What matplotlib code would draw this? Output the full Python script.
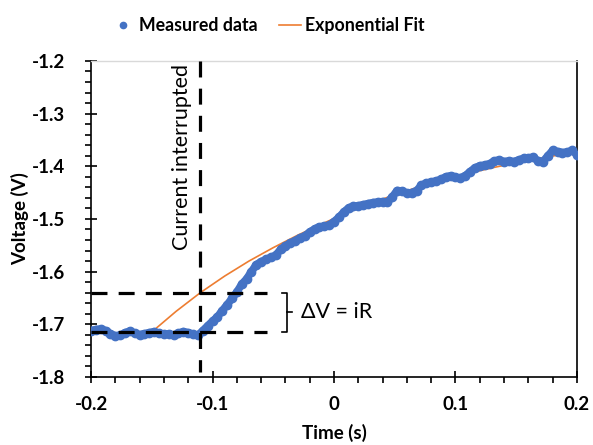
import numpy as np
import matplotlib
matplotlib.use('Agg')
import matplotlib.pyplot as plt
from matplotlib.ticker import MultipleLocator, FormatStrFormatter

plt.rcParams['font.family'] = ['Lato', 'DejaVu Sans']

# measured voltage, sampled every 4 ms from -0.2 s to 0.2 s
time = np.linspace(-0.2, 0.2, 101)
voltage = [
    -1.712, -1.710, -1.709, -1.712, -1.718, -1.722, -1.721, -1.716, -1.713, -1.717,
    -1.720, -1.718, -1.716, -1.714, -1.717, -1.719, -1.718, -1.721, -1.717, -1.714,
    -1.716, -1.719, -1.721,
    -1.712, -1.703, -1.694, -1.686, -1.674, -1.663, -1.651, -1.639, -1.624, -1.614,
    -1.600, -1.587, -1.581, -1.577, -1.573, -1.569, -1.558, -1.551, -1.546, -1.541,
    -1.536, -1.532, -1.525, -1.519, -1.515, -1.514, -1.512, -1.505,
    -1.497, -1.487, -1.479, -1.476, -1.475, -1.473, -1.471, -1.469, -1.468, -1.467,
    -1.468, -1.458, -1.446, -1.447, -1.451, -1.450, -1.446, -1.436, -1.432, -1.430,
    -1.428, -1.425, -1.420, -1.418, -1.421, -1.422, -1.418, -1.410, -1.403, -1.399,
    -1.398, -1.395, -1.390, -1.388, -1.391, -1.390, -1.391, -1.388, -1.385, -1.384,
    -1.383, -1.390, -1.391, -1.380, -1.370, -1.372, -1.374, -1.373, -1.370, -1.378,
]

# exponential fit curve
fit_time = [-0.15, -0.13, -0.11, -0.09, -0.07, -0.05, -0.03, -0.01, 0.01, 0.03,
            0.05, 0.07, 0.09, 0.11, 0.13, 0.15, 0.17, 0.19, 0.20]
fit_voltage = [-1.7147, -1.6755, -1.6400, -1.6085, -1.5800, -1.5545, -1.5310, -1.5095,
               -1.4890, -1.4705, -1.4540, -1.4390, -1.4256, -1.4137, -1.4030, -1.3933,
               -1.3845, -1.3766, -1.3729]

t_interrupt = -0.11
v_before = -1.715
v_after = -1.64

fig = plt.figure(figsize=(5.93, 4.45), dpi=100)
ax = fig.add_axes([0.1535, 0.153, 0.8195, 0.71])

blue = '#4472C4'
orange = '#ED7D31'

ax.plot(time, voltage, color=blue, lw=5.5, solid_capstyle='round', zorder=3)
ax.plot(time, voltage, 'o', color=blue, ms=6, zorder=3)
ax.plot([], [], 'o', color=blue, ms=4.5, label='Measured data')
ax.plot(fit_time, fit_voltage, color=orange, lw=1.2, label='Exponential Fit', zorder=2)

dash = dict(color='black', lw=2.3, dashes=(5, 3.5), zorder=4)
ax.plot([t_interrupt, t_interrupt], [-1.2, -1.79], **dash)
ax.plot([-0.2, -0.055], [v_after, v_after], **dash)
ax.plot([-0.2, -0.055], [v_before, v_before], **dash)

# brace for the voltage step
bx = -0.0387
ax.plot([bx - 0.004, bx, bx, bx - 0.004], [v_after, v_after, v_before, v_before],
        color='black', lw=1.2)
ax.plot([bx, bx + 0.004], [(v_after + v_before) / 2] * 2, color='black', lw=1.2)
ax.text(-0.027, (v_after + v_before) / 2, '\u0394V = iR', fontsize=15.5,
        va='center', ha='left')
ax.text(-0.125, -1.205, 'Current interrupted', rotation=90, fontsize=15.5,
        va='top', ha='center')

ax.set_xlim(-0.2, 0.2)
ax.set_ylim(-1.8, -1.2)
ax.xaxis.set_major_locator(MultipleLocator(0.1))
ax.xaxis.set_minor_locator(MultipleLocator(0.02))
ax.yaxis.set_major_locator(MultipleLocator(0.1))
ax.yaxis.set_minor_locator(MultipleLocator(0.02))
ax.xaxis.set_major_formatter(plt.FuncFormatter(lambda v, p: '0' if abs(v) < 1e-9 else f'{v:.1f}'))
ax.yaxis.set_major_formatter(FormatStrFormatter('%.1f'))
ax.tick_params(which='major', direction='inout', length=9, width=1.2, labelsize=13.5)
ax.tick_params(which='minor', direction='out', length=4, width=1.2)
ax.tick_params(axis='x', which='major', pad=9)
ax.tick_params(axis='y', which='major', pad=14)
for lab in ax.get_xticklabels() + ax.get_yticklabels():
    lab.set_fontweight('bold')

for side in ['left', 'bottom', 'right']:
    ax.spines[side].set_linewidth(1.2)
    ax.spines[side].set_color('black')
ax.spines['top'].set_color('#d9d9d9')
ax.spines['top'].set_linewidth(1)

ax.set_xlabel('Time (s)', fontsize=13.5, fontweight='bold', labelpad=8)
ax.set_ylabel('Voltage (V)', fontsize=13.5, fontweight='bold', labelpad=2)

leg = ax.legend(loc='lower center', bbox_to_anchor=(0.365, 1.045), ncol=2, frameon=False,
                fontsize=12.8, handlelength=1.25, columnspacing=1.2, handletextpad=0.25,
                borderpad=0.2)
for txt in leg.get_texts():
    txt.set_fontweight('bold')

fig.savefig('out.png', dpi=100)
